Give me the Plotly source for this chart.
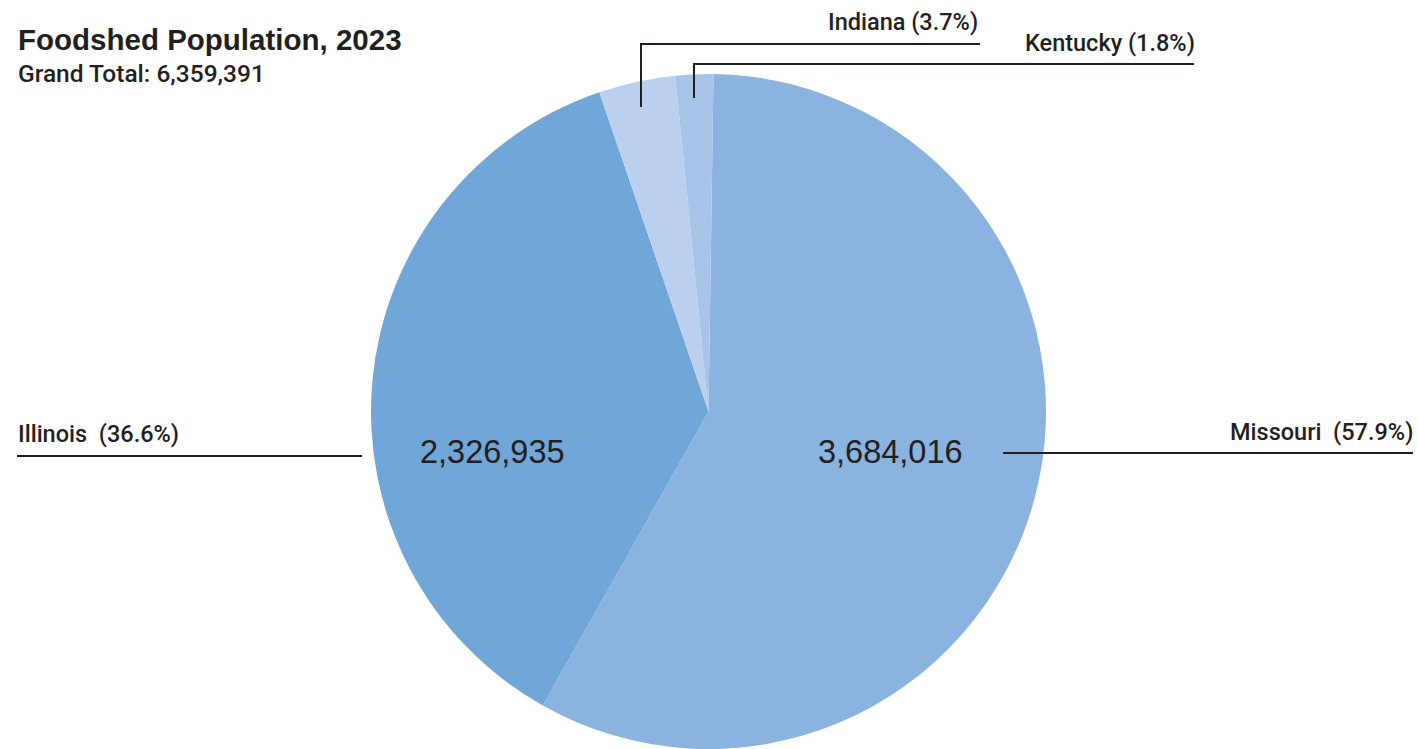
import plotly.graph_objects as go

# Foodshed population by state, 2023
states = ["Missouri", "Illinois", "Indiana", "Kentucky"]
population = [3684016, 2326935, 233500, 114940]
share_labels = ["57.9%", "36.6%", "3.7%", "1.8%"]
slice_colors = ["#8ab3df", "#71a6d9", "#bbd0ee", "#a7c3e7"]
grand_total = 6359391

W, H = 1418, 749
INK = "#231f20"


def px(x):
    return x / W


def py(y):
    return 1 - y / H


fig = go.Figure(
    go.Pie(
        labels=states,
        values=population,
        sort=False,
        direction="clockwise",
        rotation=0.85,
        marker=dict(colors=slice_colors, line=dict(width=0)),
        textinfo="none",
        hoverinfo="label+value+percent",
        showlegend=False,
        domain=dict(x=[px(371), px(1046)], y=[py(749), py(74)]),
    )
)

label_font = dict(family="Roboto", size=23.5, color=INK, weight=500)
value_font = dict(family="Liberation Sans", size=32.5, color=INK)

annotations = [
    dict(x=px(16), y=py(40), text="<b>Foodshed Population, 2023</b>", xanchor="left",
         yanchor="middle", font=dict(family="Liberation Sans", size=29.5, color=INK)),
    dict(x=px(16), y=py(73), text=f"Grand Total: {grand_total:,}", xanchor="left",
         yanchor="middle", font=dict(family="Roboto", size=24.5, color=INK, weight=500)),
    # values inside the two large slices
    dict(x=px(890), y=py(452), text=f"{population[0]:,}", xanchor="center",
         yanchor="middle", font=value_font),
    dict(x=px(492), y=py(452), text=f"{population[1]:,}", xanchor="center",
         yanchor="middle", font=value_font),
    # outside labels
    dict(x=px(1415), y=py(432), text=f"{states[0]}  ({share_labels[0]})", xanchor="right",
         yanchor="middle", font=label_font),
    dict(x=px(16), y=py(434), text=f"{states[1]}  ({share_labels[1]})", xanchor="left",
         yanchor="middle", font=label_font),
    dict(x=px(980), y=py(22), text=f"{states[2]} ({share_labels[2]})", xanchor="right",
         yanchor="middle", font=label_font),
    dict(x=px(1197), y=py(43), text=f"{states[3]} ({share_labels[3]})", xanchor="right",
         yanchor="middle", font=label_font),
]
for a in annotations:
    a.update(xref="paper", yref="paper", showarrow=False)


def leader(points):
    path = "M " + " L ".join(f"{px(x)},{py(y)}" for x, y in points)
    return dict(type="path", path=path, xref="paper", yref="paper",
                line=dict(color=INK, width=2))


shapes = [
    leader([(1003, 453), (1413, 453)]),
    leader([(17, 456), (362, 456)]),
    leader([(641, 107), (641, 44), (980, 44)]),
    leader([(694, 98), (694, 64), (1194, 64)]),
]

fig.update_layout(
    width=W,
    height=H,
    margin=dict(l=0, r=0, t=0, b=0),
    paper_bgcolor="white",
    plot_bgcolor="white",
    annotations=annotations,
    shapes=shapes,
)

fig.write_html("out.html")
